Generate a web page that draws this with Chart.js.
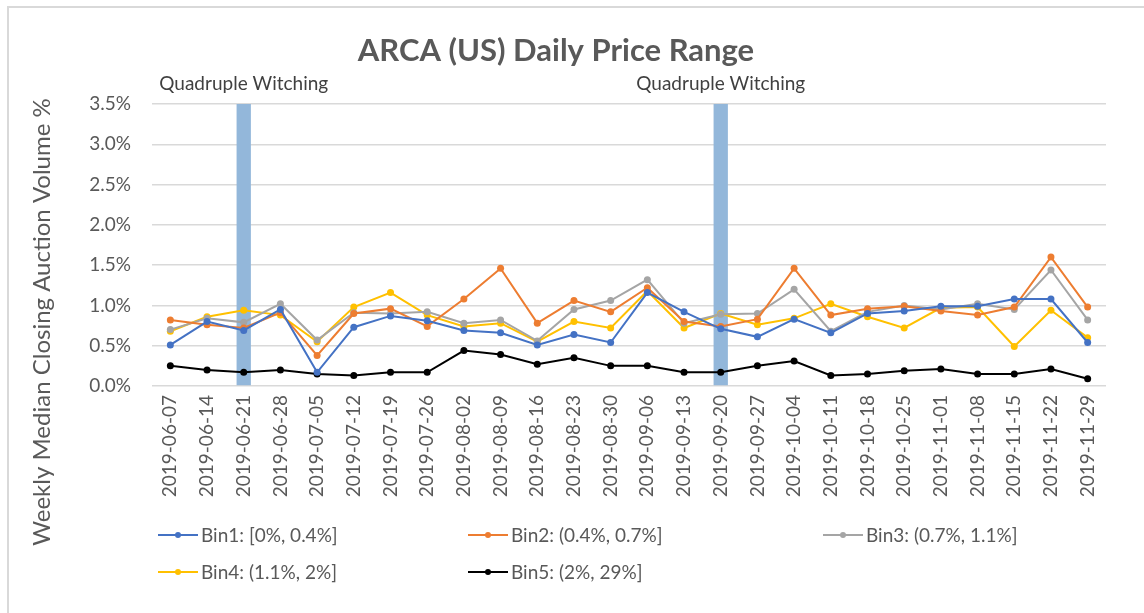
<!DOCTYPE html>
<html>
<head>
<meta charset="utf-8">
<script src="https://cdn.jsdelivr.net/npm/chart.js@4.4.1/dist/chart.umd.min.js"></script>
<style>
  html, body { margin: 0; padding: 0; background: #fff; overflow: hidden; }
  #wrap { position: relative; width: 1144px; height: 613px; overflow: hidden; }
  #frame { position: absolute; left: 7px; top: 6px; width: 2000px; height: 2000px; border: 2px solid #d9d9d9; box-sizing: border-box; }
  canvas { position: absolute; left: 0; top: 0; }
</style>
</head>
<body>
<div id="wrap">
  <div id="frame"></div>
  <canvas id="c" width="1144" height="613"></canvas>
</div>
<script>
const chartTitle = 'ARCA (US) Daily Price Range';
const yTitle = 'Weekly Median Closing Auction Volume %';
const witchingLabel = 'Quadruple Witching';

const dates = ['2019-06-07','2019-06-14','2019-06-21','2019-06-28','2019-07-05','2019-07-12','2019-07-19','2019-07-26','2019-08-02','2019-08-09','2019-08-16','2019-08-23','2019-08-30','2019-09-06','2019-09-13','2019-09-20','2019-09-27','2019-10-04','2019-10-11','2019-10-18','2019-10-25','2019-11-01','2019-11-08','2019-11-15','2019-11-22','2019-11-29'];

const witchingDates = ['2019-06-21', '2019-09-20'];

const binLabels = ['Bin1: [0%, 0.4%]', 'Bin2: (0.4%, 0.7%]', 'Bin3: (0.7%, 1.1%]', 'Bin4: (1.1%, 2%]', 'Bin5: (2%, 29%]'];
const binColors = ['#4472C4', '#ED7D31', '#A5A5A5', '#FFC000', '#000000'];

const bin1 = [0.51,0.80,0.69,0.95,0.17,0.73,0.87,0.81,0.69,0.66,0.51,0.64,0.54,1.16,0.92,0.71,0.61,0.83,0.66,0.90,0.93,0.99,0.99,1.08,1.08,0.54];
const bin2 = [0.82,0.76,0.72,0.91,0.38,0.90,0.96,0.74,1.08,1.46,0.78,1.06,0.92,1.22,0.80,0.74,0.83,1.46,0.88,0.96,0.99,0.93,0.88,0.98,1.60,0.98];
const bin3 = [0.70,0.84,0.79,1.02,0.57,0.91,0.90,0.92,0.78,0.82,0.56,0.95,1.06,1.32,0.78,0.89,0.90,1.20,0.68,0.92,1.00,0.95,1.02,0.95,1.44,0.82];
const bin4 = [0.68,0.86,0.94,0.88,0.55,0.98,1.16,0.88,0.74,0.78,0.55,0.80,0.72,1.18,0.72,0.90,0.76,0.84,1.02,0.86,0.72,0.97,0.98,0.49,0.94,0.60];
const bin5 = [0.25,0.20,0.17,0.20,0.15,0.13,0.17,0.17,0.44,0.39,0.27,0.35,0.25,0.25,0.17,0.17,0.25,0.31,0.13,0.15,0.19,0.21,0.15,0.15,0.21,0.09];

const yMin = 0, yMax = 3.5, yStep = 0.5;

const FONT = 'Lato, "Open Sans", "Liberation Sans", sans-serif';
const TEXT = '#595959';

const binSeries = [bin1, bin2, bin3, bin4, bin5];
const witchingBars = dates.map(d => witchingDates.includes(d) ? yMax : null);

const lineSets = binSeries.map((vals, i) => ({
  type: 'line',
  label: binLabels[i],
  data: vals,
  borderColor: binColors[i],
  backgroundColor: binColors[i],
  borderWidth: 2,
  pointRadius: 3.5,
  pointBorderWidth: 0,
  pointHoverRadius: 3.5,
  tension: 0,
  order: 1
}));

const overlay = {
  id: 'overlay',
  afterDraw(chart) {
    const ctx = chart.ctx;
    const xs = chart.scales.x;
    ctx.save();
    // Title
    ctx.fillStyle = TEXT;
    ctx.font = 'bold 31px ' + FONT;
    ctx.textAlign = 'center';
    ctx.textBaseline = 'alphabetic';
    ctx.fillText(chartTitle, 556, 61);
    // Quadruple witching labels
    ctx.fillStyle = '#404040';
    ctx.font = '19px ' + FONT;
    witchingDates.forEach(d => {
      const x = xs.getPixelForValue(dates.indexOf(d));
      ctx.fillText(witchingLabel, x, 90);
    });
    // Y axis title
    ctx.save();
    ctx.translate(42, 322);
    ctx.rotate(-Math.PI / 2);
    ctx.fillStyle = TEXT;
    ctx.font = '24px ' + FONT;
    ctx.textAlign = 'center';
    ctx.textBaseline = 'middle';
    ctx.fillText(yTitle, 0, 0);
    ctx.restore();
    // Legend
    const cols = [158, 468, 823];
    const rows = [535, 572];
    ctx.font = '19px ' + FONT;
    ctx.textAlign = 'left';
    ctx.textBaseline = 'middle';
    lineSets.forEach((ds, i) => {
      const x = cols[i % 3];
      const y = rows[Math.floor(i / 3)];
      ctx.strokeStyle = ds.borderColor;
      ctx.lineWidth = 2;
      ctx.beginPath();
      ctx.moveTo(x, y);
      ctx.lineTo(x + 40, y);
      ctx.stroke();
      ctx.fillStyle = ds.borderColor;
      ctx.beginPath();
      ctx.arc(x + 20, y, 3, 0, Math.PI * 2);
      ctx.fill();
      ctx.fillStyle = TEXT;
      ctx.fillText(ds.label, x + 43, y + 1);
    });
    ctx.restore();
  }
};

new Chart(document.getElementById('c'), {
  data: {
    labels: dates,
    datasets: [
      ...lineSets,
      {
        type: 'bar',
        label: witchingLabel,
        data: witchingBars,
        backgroundColor: '#93b7da',
        borderWidth: 0,
        barPercentage: 0.39,
        categoryPercentage: 1,
        order: 10
      }
    ]
  },
  options: {
    responsive: false,
    animation: false,
    events: [],
    layout: { padding: { top: 104, right: 38, bottom: 97, left: 0 } },
    plugins: {
      legend: { display: false },
      title: { display: false },
      tooltip: { enabled: false }
    },
    scales: {
      x: {
        offset: true,
        grid: { display: false, drawTicks: false },
        border: { display: false },
        ticks: {
          color: TEXT,
          font: { family: FONT, size: 19 },
          minRotation: 90,
          maxRotation: 90,
          autoSkip: false,
          padding: 9
        },
        afterFit(s) { s.height = 130; }
      },
      y: {
        min: yMin,
        max: yMax,
        grid: { color: '#d9d9d9', lineWidth: 1.5, drawTicks: false },
        border: { display: false },
        ticks: {
          stepSize: yStep,
          color: TEXT,
          font: { family: FONT, size: 19 },
          padding: 21,
          callback: v => v.toFixed(1) + '%'
        },
        afterFit(s) { s.width = 152; }
      }
    }
  },
  plugins: [overlay]
});
</script>
</body>
</html>
